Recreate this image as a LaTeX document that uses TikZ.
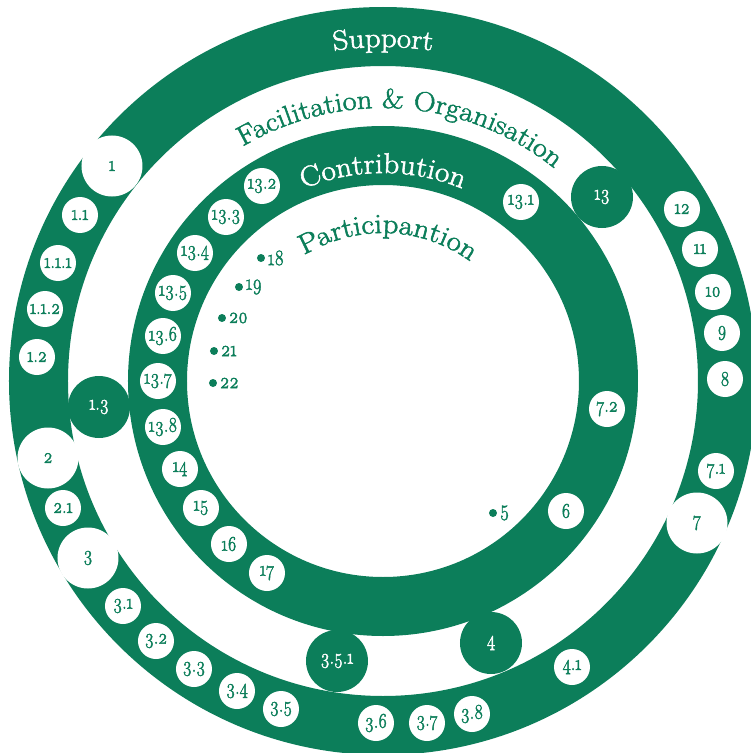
\documentclass[tikz,border=0pt]{standalone}
\usepackage{fontspec}
\setmainfont{Latin Modern Roman}[Numbers=OldStyle]
\newfontfamily\numfam{Latin Modern Roman}[Numbers=OldStyle, FakeStretch=0.82, FakeBold=2]
\newfontfamily\titlefam{Latin Modern Roman}[FakeStretch=1.1, FakeBold=2]
\usetikzlibrary{decorations.text}
\definecolor{ggreen}{RGB}{12,126,90}
\begin{document}
\begin{tikzpicture}[x=1pt,y=1pt,
  numfont/.style={font=\numfam\fontsize{21}{22}\selectfont},
  smallw/.style={circle, fill=white, text=ggreen, minimum size=36pt, inner sep=0pt, numfont},
  bigw/.style={circle, fill=white, text=ggreen, minimum size=61pt, inner sep=0pt, numfont},
  bigg/.style={circle, fill=ggreen, text=white, minimum size=62pt, inner sep=0pt, numfont},
  dotmark/.style={circle, fill=ggreen, minimum size=8pt, inner sep=0pt},
  dotlabel/.style={anchor=west, text=ggreen, inner sep=0pt, font=\numfam\fontsize{22}{22}\selectfont},
]
\useasboundingbox (-383,-372) rectangle (368,381);
\clip (-383,-372) rectangle (368,381);
% rings
\fill[ggreen, even odd rule] (0,0) circle[radius=374pt] (0,0) circle[radius=315pt];
\fill[ggreen, even odd rule] (0,0) circle[radius=255pt] (0,0) circle[radius=196pt];
% ring titles
\path[decorate, decoration={text along path, text align=center, text color=white,
  text={|\titlefam\fontsize{28}{30}\selectfont|Support}}]
  (130:334pt) arc[start angle=130, end angle=50, radius=334pt];
\path[decorate, decoration={text along path, text align=center, text color=ggreen,
  text={|\titlefam\fontsize{27.5}{30}\selectfont|{Fa}cilitation {\&} Organisation}}]
  (136:273pt) arc[start angle=136, end angle=36, radius=273pt];
\path[decorate, decoration={text along path, text align=center, text color=white,
  text={|\titlefam\fontsize{28.5}{30}\selectfont|Contribution}}]
  (140:208pt) arc[start angle=140, end angle=40, radius=208pt];
\path[decorate, decoration={text along path, text align=center, text color=ggreen,
  text={|\titlefam\fontsize{28}{30}\selectfont|{Pa}rticipantion}}]
  (150:148pt) arc[start angle=150, end angle=26, radius=148pt];
% green circles in the white ring
\node[bigg] (n13) at (219,184) {13};
\node[bigg] (n13x) at (-284,-26) {1.3};
\node[bigg] (n351) at (-46,-280) {3.5.1};
\node[bigg] (n4) at (108,-262) {4};
% large white circles in the outer ring
\node[bigw] (n1) at (-271,215) {1};
\node[bigw] (n2) at (-335,-77) {2};
\node[bigw] (n3) at (-295,-177) {3};
\node[bigw] (n7) at (314,-142) {7};
% small circles in the outer ring
\node[smallw] (n11) at (-303,166) {1.1};
\node[smallw] (n111) at (-325,118) {1.1.1};
\node[smallw] (n112) at (-338,72) {1.1.2};
\node[smallw] (n12) at (-346,24) {1.2};
\node[smallw] (n21) at (-320,-127) {2.1};
\node[smallw] (n31) at (-260,-225) {3.1};
\node[smallw] (n32) at (-227,-260) {3.2};
\node[smallw] (n33) at (-189,-288) {3.3};
\node[smallw] (n34) at (-146,-310) {3.4};
\node[smallw] (n35) at (-102,-328) {3.5};
\node[smallw] (n36) at (-7,-342) {3.6};
\node[smallw] (n37) at (44,-342) {3.7};
\node[smallw] (n38) at (89,-333) {3.8};
\node[smallw] (n41) at (189,-286) {4.1};
\node[smallw] (n71) at (333,-90) {7.1};
\node[smallw] (n8) at (342,2) {8};
\node[smallw] (n9) at (339,48) {9};
\node[smallw] (n10) at (330,89) {10};
\node[smallw] (n11b) at (317,132) {11};
\node[smallw] (n12b) at (299,172) {12};
% small circles in the inner ring
\node[smallw] (n131) at (138,179) {13.1};
\node[smallw] (n132) at (-121,195) {13.2};
\node[smallw] (n133) at (-157,164) {13.3};
\node[smallw] (n134) at (-188,128) {13.4};
\node[smallw] (n135) at (-210,88) {13.5};
\node[smallw] (n136) at (-220,45) {13.6};
\node[smallw] (n137) at (-225,0) {13.7};
\node[smallw] (n138) at (-220,-46) {13.8};
\node[smallw] (n14) at (-203,-88) {14};
\node[smallw] (n15) at (-182,-127) {15};
\node[smallw] (n16) at (-154,-163) {16};
\node[smallw] (n17) at (-116,-192) {17};
\node[smallw] (n6) at (183,-130) {6};
\node[smallw] (n72) at (224,-28) {7.2};
% dots in the participation disk
\node[dotmark] (d18) at (-122,123) {};
\node[dotmark] (d19) at (-144,94) {};
\node[dotmark] (d20) at (-161,63) {};
\node[dotmark] (d21) at (-169,30) {};
\node[dotmark] (d22) at (-170,-2) {};
\node[dotmark] (d5) at (110,-132) {};
\node[dotlabel] (l18) at ([xshift=2.5pt]d18.east) {18};
\node[dotlabel] (l19) at ([xshift=2.5pt]d19.east) {19};
\node[dotlabel] (l20) at ([xshift=2.5pt]d20.east) {20};
\node[dotlabel] (l21) at ([xshift=2.5pt]d21.east) {21};
\node[dotlabel] (l22) at ([xshift=2.5pt]d22.east) {22};
\node[dotlabel] (l5) at ([xshift=2.5pt]d5.east) {5};
\end{tikzpicture}
\end{document}
